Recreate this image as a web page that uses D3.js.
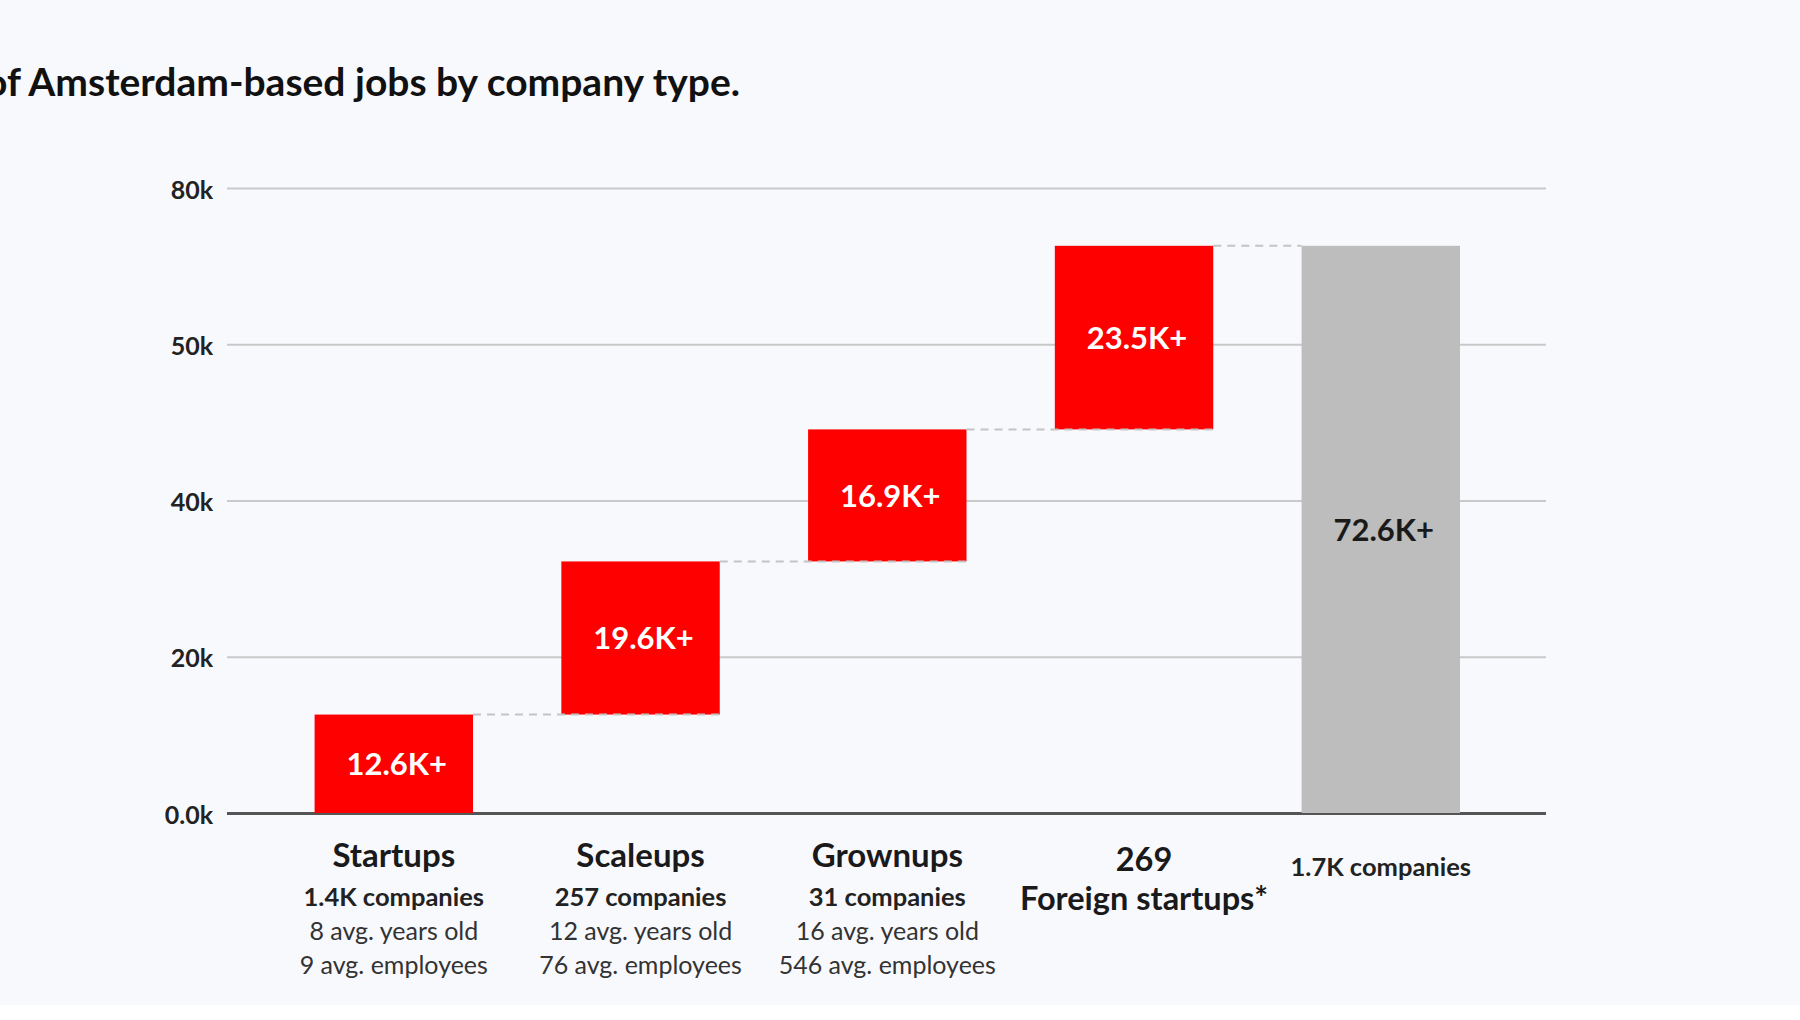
<!DOCTYPE html>
<html>
<head>
<meta charset="utf-8">
<script src="https://cdn.jsdelivr.net/npm/d3@7"></script>
<style>
  body { margin: 0; background: #fff; }
  text { font-family: Lato, "Noto Sans", sans-serif; }
</style>
</head>
<body>
<svg id="chart" width="1800" height="1020"></svg>
<script>
// data
const categories = ["Startups", "Scaleups", "Grownups", "Foreign startups*", "Total"];
const jobs = [12600, 19600, 16900, 23500];          // step values
const totalJobs = 72600;
const valueLabels = ["12.6K+", "19.6K+", "16.9K+", "23.5K+", "72.6K+"];
const companyLabels = ["1.4K companies", "257 companies", "31 companies", "269", "1.7K companies"];
const ageLabels = ["8 avg. years old", "12 avg. years old", "16 avg. years old", "", ""];
const employeeLabels = ["9 avg. employees", "76 avg. employees", "546 avg. employees", "", ""];
const tickValues = [0, 20000, 40000, 60000, 80000];
const tickLabels = ["0.0k", "20k", "40k", "50k", "80k"];

const svg = d3.select("#chart");

// page background (white strip at the very bottom)
svg.append("rect").attr("width", 1800).attr("height", 1005).attr("fill", "#f8f9fd");

// title, cut off at the left edge like the reference
svg.append("text")
  .attr("x", 740).attr("y", 96)
  .attr("text-anchor", "end")
  .attr("font-size", 39).attr("font-weight", 700).attr("fill", "#111")
  .text("of Amsterdam-based jobs by company type.");

const y = d3.scaleLinear().domain([0, 80000]).range([813, 188]);
const x = d3.scaleBand().domain(categories).range([314.6, 1460]).paddingInner(0.358).paddingOuter(0);

// build waterfall rows
let run = 0;
const rows = categories.map(function(c, i) {
  if (i < jobs.length) {
    let r = {cat: c, start: run, end: run + jobs[i], total: false};
    run += jobs[i];
    return r;
  }
  return {cat: c, start: 0, end: totalJobs, total: true};
});

// gridlines + tick labels
const yAxis = d3.axisLeft(y)
  .tickValues(tickValues)
  .tickFormat(function(d, i) { return tickLabels[i]; })
  .tickSize(-(1546 - 227))
  .tickPadding(14);

const ax = svg.append("g").attr("transform", "translate(227,0)").call(yAxis);
ax.select(".domain").remove();
ax.selectAll(".tick line")
  .attr("stroke", function(d) { return d === 0 ? "#555" : "#c9c9c9"; })
  .attr("stroke-width", function(d) { return d === 0 ? 3 : 2; });
ax.selectAll(".tick text")
  .attr("font-family", "Lato, sans-serif")
  .attr("dy", "0.4em")
  .attr("font-size", 25).attr("font-weight", 700).attr("fill", "#222");

// bars
svg.append("g").selectAll("rect")
  .data(rows)
  .enter().append("rect")
  .attr("x", function(d) { return x(d.cat); })
  .attr("width", x.bandwidth())
  .attr("y", function(d) { return y(d.end); })
  .attr("height", function(d) { return y(d.start) - y(d.end); })
  .attr("fill", function(d) { return d.total ? "#bdbdbd" : "#ff0000"; });

// dashed connectors
const links = rows.slice(0, -1).map(function(d, i) {
  return {x1: x(d.cat) + x.bandwidth(), x2: x(rows[i + 1].cat) + (i + 1 < jobs.length ? x.bandwidth() : 0), yv: d.end};
});
svg.append("g").selectAll("line")
  .data(links)
  .enter().append("line")
  .attr("x1", function(d) { return d.x1; })
  .attr("x2", function(d) { return d.x2; })
  .attr("y1", function(d) { return y(d.yv); })
  .attr("y2", function(d) { return y(d.yv); })
  .attr("stroke", "#c4c4c4")
  .attr("stroke-width", 2)
  .attr("stroke-dasharray", "8,6");

// value labels inside bars
svg.append("g").selectAll("text")
  .data(rows)
  .enter().append("text")
  .attr("x", function(d) { return x(d.cat) + x.bandwidth() / 2 + 3; })
  .attr("y", function(d) { return (y(d.start) + y(d.end)) / 2; })
  .attr("dy", "0.36em")
  .attr("text-anchor", "middle")
  .attr("font-size", 31).attr("font-weight", 700)
  .attr("fill", function(d) { return d.total ? "#1a1a1a" : "#fff"; })
  .text(function(d, i) { return valueLabels[i]; });

// category labels under the axis
const lab = svg.append("g").selectAll("g")
  .data(rows)
  .enter().append("g")
  .attr("transform", function(d) { return "translate(" + (x(d.cat) + x.bandwidth() / 2) + ",0)"; });

lab.each(function(d, i) {
  const g = d3.select(this);
  if (d.total) {
    g.append("text").attr("y", 876).attr("text-anchor", "middle")
      .attr("font-size", 25.5).attr("font-weight", 700).attr("fill", "#222")
      .text(companyLabels[i]);
  } else if (ageLabels[i] === "") {
    g.append("text").attr("x", 10).attr("y", 871).attr("text-anchor", "middle")
      .attr("font-size", 32.5).attr("font-weight", 700).attr("fill", "#1a1a1a")
      .text(companyLabels[i]);
    g.append("text").attr("x", 10).attr("y", 910).attr("text-anchor", "middle")
      .attr("font-size", 32.5).attr("font-weight", 700).attr("fill", "#1a1a1a")
      .text(d.cat);
  } else {
    g.append("text").attr("y", 867).attr("text-anchor", "middle")
      .attr("font-size", 33).attr("font-weight", 700).attr("fill", "#1a1a1a")
      .text(d.cat);
    g.append("text").attr("y", 906).attr("text-anchor", "middle")
      .attr("font-size", 25.5).attr("font-weight", 700).attr("fill", "#222")
      .text(companyLabels[i]);
    g.append("text").attr("y", 940).attr("text-anchor", "middle")
      .attr("font-size", 25).attr("fill", "#333")
      .text(ageLabels[i]);
    g.append("text").attr("y", 974).attr("text-anchor", "middle")
      .attr("font-size", 25).attr("fill", "#333")
      .text(employeeLabels[i]);
  }
});
</script>
</body>
</html>
